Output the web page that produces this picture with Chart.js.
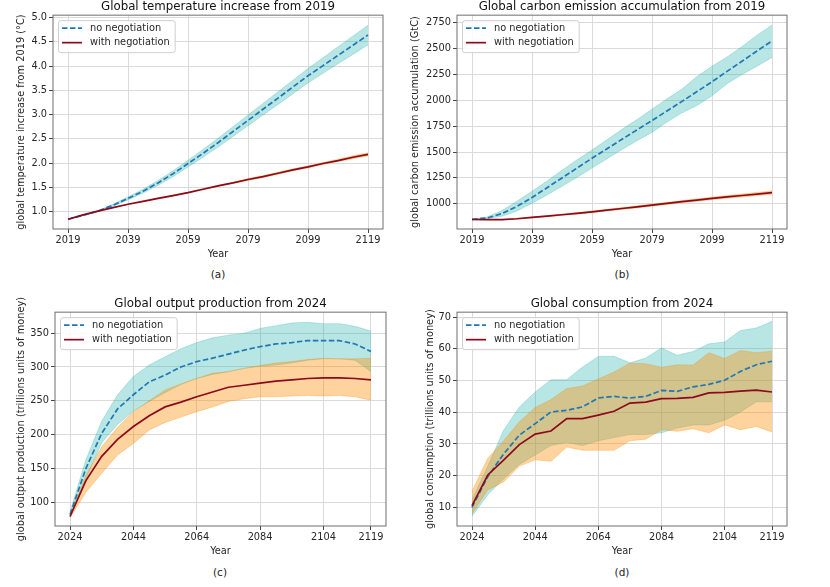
<!DOCTYPE html>
<html lang="en">
<head>
<meta charset="utf-8">
<title>Negotiation scenarios</title>
<script src="https://cdn.jsdelivr.net/npm/chart.js@4.4.1/dist/chart.umd.min.js"></script>
<style>
  body { margin: 0; background: #fff; }
  #fig { position: relative; width: 830px; height: 587px; overflow: hidden; font-family: 'DejaVu Sans', sans-serif; }
  .panel { position: absolute; }
  .cap { position: absolute; font-size: 10.5px; line-height: 12px; color: #222; transform: translateX(-50%); }
</style>
</head>
<body>
<div id="fig">
  <div class="panel" style="left:0;top:0;width:400px;height:265px"><canvas id="tempChart"></canvas></div>
  <div class="panel" style="left:405px;top:0;width:425px;height:265px"><canvas id="carbonChart"></canvas></div>
  <div class="panel" style="left:0;top:295px;width:400px;height:265px"><canvas id="outputChart"></canvas></div>
  <div class="panel" style="left:405px;top:295px;width:425px;height:265px"><canvas id="consChart"></canvas></div>
  <div class="cap" style="left:218px;top:268px">(a)</div>
  <div class="cap" style="left:622px;top:268px">(b)</div>
  <div class="cap" style="left:220px;top:566px">(c)</div>
  <div class="cap" style="left:622px;top:566px">(d)</div>
</div>
<script>
  // Years on the x axis (5-year steps)
  const years2019 = [2019, 2024, 2029, 2034, 2039, 2044, 2049, 2054, 2059, 2064, 2069, 2074, 2079, 2084, 2089, 2094, 2099, 2104, 2109, 2114, 2119];
  const years2024 = [2024, 2029, 2034, 2039, 2044, 2049, 2054, 2059, 2064, 2069, 2074, 2079, 2084, 2089, 2094, 2099, 2104, 2109, 2114, 2119];

  // Tick labels
  const xTicks2019 = [2019, 2039, 2059, 2079, 2099, 2119];
  const xTicks2024 = [2024, 2044, 2064, 2084, 2104, 2119];
  const tempTicks = [1.0, 1.5, 2.0, 2.5, 3.0, 3.5, 4.0, 4.5, 5.0];
  const carbonTicks = [1000, 1250, 1500, 1750, 2000, 2250, 2500, 2750];
  const outputTicks = [100, 150, 200, 250, 300, 350];
  const consTicks = [10, 20, 30, 40, 50, 60, 70];

  // (a) global temperature increase (°C)
  const tempNoNeg   = [0.84, 0.92, 1.01, 1.13, 1.27, 1.42, 1.59, 1.78, 1.99, 2.20, 2.42, 2.65, 2.88, 3.11, 3.34, 3.57, 3.80, 4.01, 4.22, 4.43, 4.64];
  const tempNoNegHi = [0.84, 0.93, 1.02, 1.15, 1.30, 1.46, 1.64, 1.84, 2.06, 2.28, 2.51, 2.75, 2.99, 3.23, 3.47, 3.71, 3.95, 4.17, 4.40, 4.62, 4.84];
  const tempNoNegLo = [0.84, 0.91, 1.00, 1.11, 1.24, 1.38, 1.54, 1.72, 1.92, 2.12, 2.33, 2.55, 2.77, 2.99, 3.21, 3.43, 3.65, 3.85, 4.05, 4.24, 4.44];
  const tempNeg     = [0.84, 0.93, 1.01, 1.08, 1.15, 1.21, 1.27, 1.33, 1.39, 1.46, 1.53, 1.59, 1.66, 1.72, 1.79, 1.86, 1.92, 1.99, 2.05, 2.12, 2.18];
  const tempNegHi   = [0.84, 0.93, 1.01, 1.08, 1.15, 1.22, 1.28, 1.34, 1.40, 1.47, 1.54, 1.60, 1.68, 1.74, 1.81, 1.88, 1.94, 2.01, 2.08, 2.15, 2.21];
  const tempNegLo   = [0.84, 0.93, 1.01, 1.08, 1.15, 1.20, 1.26, 1.32, 1.38, 1.45, 1.52, 1.58, 1.64, 1.70, 1.77, 1.84, 1.90, 1.97, 2.03, 2.09, 2.15];

  // (b) accumulated carbon emission (GtC)
  const carbonNoNeg   = [850, 862, 905, 975, 1060, 1155, 1250, 1345, 1440, 1532, 1624, 1715, 1805, 1898, 1990, 2085, 2180, 2280, 2378, 2478, 2575];
  const carbonNoNegHi = [850, 872, 935, 1025, 1120, 1220, 1325, 1425, 1520, 1620, 1720, 1815, 1915, 2015, 2110, 2230, 2330, 2420, 2520, 2630, 2730];
  const carbonNoNegLo = [848, 856, 880, 930, 1005, 1085, 1170, 1255, 1345, 1435, 1525, 1610, 1690, 1790, 1880, 1950, 2045, 2160, 2250, 2330, 2415];
  const carbonNeg     = [848, 846, 847, 855, 868, 880, 894, 908, 922, 938, 954, 970, 987, 1003, 1020, 1036, 1052, 1066, 1080, 1094, 1108];
  const carbonNegHi   = [848, 847, 849, 858, 872, 885, 900, 915, 930, 946, 963, 980, 997, 1014, 1031, 1048, 1064, 1079, 1094, 1109, 1124];
  const carbonNegLo   = [848, 845, 845, 852, 864, 875, 888, 901, 914, 930, 945, 960, 977, 992, 1009, 1024, 1040, 1053, 1066, 1079, 1092];

  // (c) global output production (trillions)
  const outputNoNeg   = [82, 150, 202, 238, 259, 278, 288, 300, 308, 313, 319, 325, 330, 334, 336, 339, 339, 339, 334, 323];
  const outputNoNegHi = [86, 163, 220, 259, 286, 303, 315, 327, 336, 343, 347, 350, 357, 361, 365, 366, 364, 364, 360, 353];
  const outputNoNegLo = [78, 135, 188, 215, 235, 249, 262, 274, 283, 289, 293, 298, 301, 303, 306, 310, 312, 312, 310, 293];
  const outputNeg     = [79, 132, 168, 193, 212, 228, 241, 248, 256, 263, 270, 273, 276, 279, 281, 283, 284, 284, 283, 281];
  const outputNegHi   = [82, 140, 182, 211, 234, 250, 266, 275, 283, 291, 293, 298, 302, 306, 308, 311, 313, 312, 312, 313];
  const outputNegLo   = [77, 115, 143, 170, 187, 207, 218, 226, 234, 241, 249, 253, 256, 256, 257, 258, 257, 258, 256, 251];

  // (d) global consumption (trillions)
  const consNoNeg   = [10.0, 19.7, 26.8, 32.8, 36.4, 40.1, 40.6, 41.7, 44.5, 45.0, 44.5, 45.0, 46.9, 46.6, 48.0, 48.8, 50.1, 52.9, 55.0, 56.1];
  const consNoNegHi = [12.5, 23.0, 34.3, 41.7, 46.4, 50.3, 50.3, 54.3, 57.6, 57.7, 55.6, 57.1, 60.3, 58.0, 59.2, 61.6, 62.2, 65.8, 66.6, 68.7];
  const consNoNegLo = [7.2, 14.0, 19.0, 23.5, 26.5, 29.5, 30.5, 29.5, 31.0, 32.0, 33.0, 33.0, 33.5, 35.0, 36.0, 36.0, 37.5, 40.0, 43.3, 43.3];
  const consNeg     = [10.5, 20.2, 24.9, 29.8, 33.1, 34.1, 38.0, 38.0, 39.1, 40.3, 42.9, 43.2, 44.3, 44.4, 44.7, 46.1, 46.3, 46.7, 47.0, 46.4];
  const consNegHi   = [15.0, 25.5, 31.0, 37.0, 41.5, 44.0, 47.5, 48.3, 50.5, 52.7, 55.5, 55.3, 54.2, 55.0, 54.9, 58.8, 57.0, 59.5, 58.8, 59.3];
  const consNegLo   = [8.0, 15.5, 18.0, 23.0, 25.0, 24.5, 29.0, 28.0, 28.0, 28.0, 31.0, 31.5, 34.5, 34.0, 34.8, 33.5, 36.0, 34.5, 35.5, 33.8];

  const TEAL = 'rgba(32, 178, 170, 0.32)';
  const ORANGE = 'rgba(255, 140, 0, 0.38)';
  const BLUE = '#1f77b4';
  const RED = '#8b0a1e';
  const GRID = '#dadada';

  Chart.defaults.font.family = "'DejaVu Sans', sans-serif";
  Chart.defaults.font.size = 9.8;
  Chart.defaults.color = '#262626';

  const pairs = (xs, ys) => xs.map((x, i) => ({ x: x, y: ys[i] }));

  // legend box drawn inside the top-left corner of the plot, plus the frame
  const insideLegend = {
    id: 'insideLegend',
    afterDatasetsDraw(chart) {
      const ctx = chart.ctx;
      const a = chart.chartArea;
      ctx.save();
      ctx.strokeStyle = '#6e6e6e';
      ctx.lineWidth = 1;
      ctx.strokeRect(a.left, a.top, a.right - a.left, a.bottom - a.top);

      const items = chart.data.datasets.filter(d => d.label);
      ctx.font = "9.8px 'DejaVu Sans', sans-serif";
      const textW = Math.max(...items.map(d => ctx.measureText(d.label).width));
      const bx = a.left + 5, by = a.top + 5;
      const bw = 32 + textW + 5, bh = 32;
      ctx.fillStyle = 'rgba(255,255,255,0.85)';
      ctx.strokeStyle = '#cfcfcf';
      ctx.beginPath();
      ctx.roundRect(bx + 0.5, by + 0.5, bw, bh, 2.5);
      ctx.fill();
      ctx.stroke();

      items.forEach((d, i) => {
        const y = a.top + 13 + i * 14.5;
        ctx.strokeStyle = d.borderColor;
        ctx.lineWidth = d.borderWidth;
        ctx.setLineDash(d.borderDash || []);
        ctx.beginPath();
        ctx.moveTo(a.left + 9, y);
        ctx.lineTo(a.left + 29, y);
        ctx.stroke();
        ctx.setLineDash([]);
        ctx.fillStyle = '#262626';
        ctx.textBaseline = 'middle';
        ctx.fillText(d.label, a.left + 37, y);
      });
      ctx.restore();
    }
  };

  function makePanel(id, p) {
    new Chart(document.getElementById(id), {
      type: 'line',
      data: {
        datasets: [
          { data: pairs(p.x, p.noHi), fill: '+1', backgroundColor: TEAL, borderColor: TEAL, borderWidth: 0.8, order: 5 },
          { data: pairs(p.x, p.noLo), fill: false, borderColor: TEAL, borderWidth: 0.8, order: 5 },
          { data: pairs(p.x, p.negHi), fill: '+1', backgroundColor: ORANGE, borderColor: ORANGE, borderWidth: 0.8, order: 3 },
          { data: pairs(p.x, p.negLo), fill: false, borderColor: ORANGE, borderWidth: 0.8, order: 3 },
          { label: 'no negotiation', data: pairs(p.x, p.no), borderColor: BLUE, borderWidth: 1.7, borderDash: [5.5, 2.5], fill: false, order: 1 },
          { label: 'with negotiation', data: pairs(p.x, p.neg), borderColor: RED, borderWidth: 1.7, fill: false, order: 0 }
        ]
      },
      options: {
        responsive: true,
        maintainAspectRatio: false,
        animation: false,
        layout: { padding: p.pad },
        elements: { point: { radius: 0 }, line: { tension: 0 } },
        plugins: {
          legend: { display: false },
          tooltip: { enabled: false },
          title: {
            display: true,
            text: p.title,
            fullSize: false,
            color: '#111',
            font: { size: 11.8, weight: 'normal' },
            padding: { top: 0, bottom: 1 }
          }
        },
        scales: {
          x: {
            type: 'linear',
            min: p.xMin,
            max: p.xMax,
            afterBuildTicks: s => { s.ticks = p.xTicks.map(v => ({ value: v })); },
            afterFit: s => { s.height = 31; },
            ticks: { callback: v => String(v), padding: 2, maxRotation: 0, autoSkip: false },
            grid: { color: GRID, lineWidth: 1, tickColor: '#444', tickLength: 4 },
            border: { display: false },
            title: { display: true, text: 'Year', padding: 0 }
          },
          y: {
            min: p.yMin,
            max: p.yMax,
            afterBuildTicks: s => { s.ticks = p.yTicks.map(v => ({ value: v })); },
            afterFit: s => { s.width = p.yw; },
            ticks: { callback: v => p.yFmt(v), padding: 2, autoSkip: false },
            grid: { color: GRID, lineWidth: 1, tickColor: '#444', tickLength: 4 },
            border: { display: false },
            title: { display: true, text: p.yTitle, padding: 0 }
          }
        }
      },
      plugins: [insideLegend]
    });
  }

  makePanel('tempChart', {
    title: 'Global temperature increase from 2019',
    yTitle: 'global temperature increase from 2019 (°C)',
    x: years2019, xTicks: xTicks2019, xMin: 2014, xMax: 2124,
    yTicks: tempTicks, yMin: 0.64, yMax: 5.05, yFmt: v => v.toFixed(1),
    no: tempNoNeg, noHi: tempNoNegHi, noLo: tempNoNegLo,
    neg: tempNeg, negHi: tempNegHi, negLo: tempNegLo,
    pad: { left: 15.5, right: 17, top: 0, bottom: 5 }, yw: 37.5
  });

  makePanel('carbonChart', {
    title: 'Global carbon emission accumulation from 2019',
    yTitle: 'global carbon emission accumulation (GtC)',
    x: years2019, xTicks: xTicks2019, xMin: 2014, xMax: 2124,
    yTicks: carbonTicks, yMin: 756, yMax: 2824, yFmt: v => String(v),
    no: carbonNoNeg, noHi: carbonNoNegHi, noLo: carbonNoNegLo,
    neg: carbonNeg, negHi: carbonNegHi, negLo: carbonNegLo,
    pad: { left: 4.5, right: 43, top: 0, bottom: 5 }, yw: 47.5
  });

  makePanel('outputChart', {
    title: 'Global output production from 2024',
    yTitle: 'global output production (trillions units of money)',
    x: years2024, xTicks: xTicks2024, xMin: 2019.25, xMax: 2123.75,
    yTicks: outputTicks, yMin: 65, yMax: 381, yFmt: v => String(v),
    no: outputNoNeg, noHi: outputNoNegHi, noLo: outputNoNegLo,
    neg: outputNeg, negHi: outputNegHi, negLo: outputNegLo,
    pad: { left: 15.5, right: 14, top: 2, bottom: 3 }, yw: 39.5
  });

  makePanel('consChart', {
    title: 'Global consumption from 2024',
    yTitle: 'global consumption (trillions units of money)',
    x: years2024, xTicks: xTicks2024, xMin: 2019.25, xMax: 2123.75,
    yTicks: consTicks, yMin: 4.1, yMax: 71.6, yFmt: v => String(v),
    no: consNoNeg, noHi: consNoNegHi, noLo: consNoNegLo,
    neg: consNeg, negHi: consNegHi, negLo: consNegLo,
    pad: { left: 19.5, right: 43, top: 2, bottom: 3 }, yw: 32.5
  });
</script>
</body>
</html>
